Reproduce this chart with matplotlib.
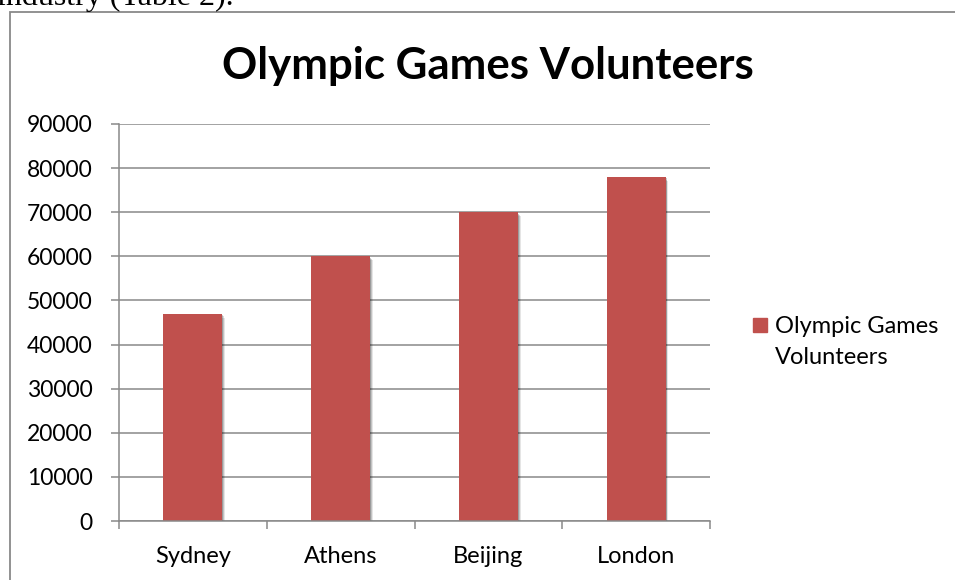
import matplotlib
matplotlib.use("Agg")
import matplotlib.pyplot as plt
from matplotlib.patches import Rectangle
import numpy as np

categories = ["Sydney", "Athens", "Beijing", "London"]
volunteers = [47000, 60000, 70000, 78000]
yticks = [0, 10000, 20000, 30000, 40000, 50000, 60000, 70000, 80000, 90000]
title = "Olympic Games Volunteers"
series_lines = ["Olympic Games", "Volunteers"]

W, H = 955, 580
fig = plt.figure(figsize=(W / 100, H / 100), dpi=100)
plt.rcParams['font.family'] = ['Lato', 'DejaVu Sans']

grid_col = "#898989"
bar_col = "#C0504D"

# page text cut at top
fig.text(-3 / W, 1 - 5 / H, "industry (Table 2).", family="Liberation Serif",
         fontsize=23, va="baseline", ha="left", color="black")

# chart border
fig.patches.append(Rectangle((9.5 / W, -0.1), 1.2, 1 - 12 / H + 0.1,
                             transform=fig.transFigure, fill=False,
                             edgecolor=grid_col, lw=1.3))

ax = fig.add_axes([119 / W, 1 - 521 / H, (710 - 119) / W, (521 - 124) / H])
x = np.arange(len(categories))

# soft shadow
for off, a in [(0.018, 0.10), (0.012, 0.15), (0.006, 0.2)]:
    ax.bar(x + off, np.array(volunteers) - 300 * (off / 0.006), width=0.4,
           color="#000000", alpha=a, zorder=2, lw=0)
ax.bar(x, volunteers, width=0.4, color=bar_col, zorder=3, lw=0)

ax.set_xlim(-0.5, 3.5)
ax.set_ylim(0, 90000)
ax.set_yticks(yticks)
ax.set_yticklabels([str(v) for v in yticks])
ax.set_xticks(x)
ax.set_xticklabels(categories)
ax.set_xticks(np.arange(-0.5, 4, 1), minor=True)
ax.tick_params(axis="x", which="major", length=0, pad=18, labelsize=17)
ax.tick_params(axis="x", which="minor", length=5.8, width=1.1, color=grid_col)
ax.tick_params(axis="y", length=5.8, width=1.1, color=grid_col, pad=13, labelsize=16.5)

ax.grid(axis="y", color=grid_col, lw=1.1, zorder=1)
ax.set_axisbelow(True)
for s in ["top", "right"]:
    ax.spines[s].set_visible(False)
for s in ["left", "bottom"]:
    ax.spines[s].set_color(grid_col)
    ax.spines[s].set_linewidth(1.1)
    ax.spines[s].set_zorder(4)

fig.text(488 / W, 1 - 79 / H, title, fontsize=31.5, fontweight="bold",
         ha="center", va="baseline")

# legend
fig.patches.append(Rectangle((753 / W, 1 - 332 / H), 14 / W, 14 / H,
                             transform=fig.transFigure, color=bar_col))
fig.text(775 / W, 1 - 333 / H, series_lines[0], fontsize=17, ha="left", va="baseline")
fig.text(775 / W, 1 - 364 / H, series_lines[1], fontsize=17, ha="left", va="baseline")

fig.savefig("out.png", dpi=100)
